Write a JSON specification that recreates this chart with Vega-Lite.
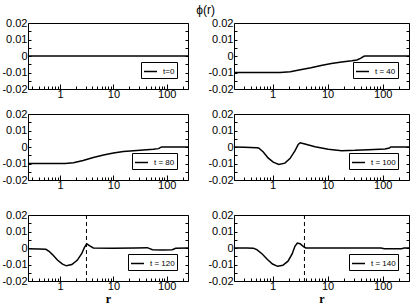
{
  "$schema": "https://vega.github.io/schema/vega-lite/v6.json",
  "padding": {"left": 1, "right": 1, "top": 3, "bottom": 2},
  "title": {"text": "ϕ(r)", "fontSize": 12, "fontWeight": "normal", "font": "Liberation Sans", "anchor": "middle", "offset": 0, "color": "black"},
  "datasets": {
    "phi": [
      {"t": 0, "label": "t=0", "r": 0.25, "phi": 0},
      {"t": 0, "label": "t=0", "r": 1, "phi": 0},
      {"t": 0, "label": "t=0", "r": 10, "phi": 0},
      {"t": 0, "label": "t=0", "r": 100, "phi": 0},
      {"t": 0, "label": "t=0", "r": 250, "phi": 0},

      {"t": 40, "label": "t = 40", "r": 0.2, "phi": -0.01},
      {"t": 40, "label": "t = 40", "r": 0.5, "phi": -0.01},
      {"t": 40, "label": "t = 40", "r": 1, "phi": -0.01},
      {"t": 40, "label": "t = 40", "r": 1.37, "phi": -0.01},
      {"t": 40, "label": "t = 40", "r": 2.1, "phi": -0.0096},
      {"t": 40, "label": "t = 40", "r": 3.2, "phi": -0.0084},
      {"t": 40, "label": "t = 40", "r": 5, "phi": -0.0071},
      {"t": 40, "label": "t = 40", "r": 7.6, "phi": -0.0057},
      {"t": 40, "label": "t = 40", "r": 11.7, "phi": -0.0045},
      {"t": 40, "label": "t = 40", "r": 18, "phi": -0.0037},
      {"t": 40, "label": "t = 40", "r": 27.6, "phi": -0.0029},
      {"t": 40, "label": "t = 40", "r": 34, "phi": -0.0024},
      {"t": 40, "label": "t = 40", "r": 39.5, "phi": -0.0014},
      {"t": 40, "label": "t = 40", "r": 45.5, "phi": -0.0002},
      {"t": 40, "label": "t = 40", "r": 49, "phi": 0},
      {"t": 40, "label": "t = 40", "r": 100, "phi": 0},
      {"t": 40, "label": "t = 40", "r": 300, "phi": 0},

      {"t": 80, "label": "t = 80", "r": 0.25, "phi": -0.01},
      {"t": 80, "label": "t = 80", "r": 0.6, "phi": -0.01},
      {"t": 80, "label": "t = 80", "r": 1.24, "phi": -0.01},
      {"t": 80, "label": "t = 80", "r": 1.78, "phi": -0.0096},
      {"t": 80, "label": "t = 80", "r": 2.7, "phi": -0.0082},
      {"t": 80, "label": "t = 80", "r": 4.2, "phi": -0.0064},
      {"t": 80, "label": "t = 80", "r": 6.5, "phi": -0.0048},
      {"t": 80, "label": "t = 80", "r": 10, "phi": -0.0036},
      {"t": 80, "label": "t = 80", "r": 15.4, "phi": -0.0028},
      {"t": 80, "label": "t = 80", "r": 23.7, "phi": -0.0022},
      {"t": 80, "label": "t = 80", "r": 36.5, "phi": -0.0018},
      {"t": 80, "label": "t = 80", "r": 56, "phi": -0.0014},
      {"t": 80, "label": "t = 80", "r": 70, "phi": -0.001},
      {"t": 80, "label": "t = 80", "r": 77, "phi": -0.0002},
      {"t": 80, "label": "t = 80", "r": 80, "phi": 0},
      {"t": 80, "label": "t = 80", "r": 250, "phi": 0},

      {"t": 100, "label": "t = 100", "r": 0.2, "phi": 0},
      {"t": 100, "label": "t = 100", "r": 0.31, "phi": -0.0002},
      {"t": 100, "label": "t = 100", "r": 0.51, "phi": -0.0004},
      {"t": 100, "label": "t = 100", "r": 0.56, "phi": -0.0006},
      {"t": 100, "label": "t = 100", "r": 0.68, "phi": -0.003},
      {"t": 100, "label": "t = 100", "r": 0.83, "phi": -0.0066},
      {"t": 100, "label": "t = 100", "r": 1.03, "phi": -0.0092},
      {"t": 100, "label": "t = 100", "r": 1.3, "phi": -0.0106},
      {"t": 100, "label": "t = 100", "r": 1.68, "phi": -0.0098},
      {"t": 100, "label": "t = 100", "r": 2.07, "phi": -0.007},
      {"t": 100, "label": "t = 100", "r": 2.55, "phi": -0.0024},
      {"t": 100, "label": "t = 100", "r": 2.93, "phi": 0.0016},
      {"t": 100, "label": "t = 100", "r": 3.18, "phi": 0.0026},
      {"t": 100, "label": "t = 100", "r": 3.87, "phi": 0.0018},
      {"t": 100, "label": "t = 100", "r": 5.9, "phi": 0.0002},
      {"t": 100, "label": "t = 100", "r": 10.3, "phi": -0.0014},
      {"t": 100, "label": "t = 100", "r": 18, "phi": -0.0022},
      {"t": 100, "label": "t = 100", "r": 31.5, "phi": -0.002},
      {"t": 100, "label": "t = 100", "r": 55, "phi": -0.0016},
      {"t": 100, "label": "t = 100", "r": 110, "phi": -0.0012},
      {"t": 100, "label": "t = 100", "r": 132, "phi": -0.0006},
      {"t": 100, "label": "t = 100", "r": 140, "phi": 0},
      {"t": 100, "label": "t = 100", "r": 300, "phi": 0},

      {"t": 120, "label": "t = 120", "r": 0.25, "phi": -0.0004},
      {"t": 120, "label": "t = 120", "r": 0.4, "phi": -0.0006},
      {"t": 120, "label": "t = 120", "r": 0.54, "phi": -0.0008},
      {"t": 120, "label": "t = 120", "r": 0.62, "phi": -0.002},
      {"t": 120, "label": "t = 120", "r": 0.72, "phi": -0.004},
      {"t": 120, "label": "t = 120", "r": 0.89, "phi": -0.0073},
      {"t": 120, "label": "t = 120", "r": 1.11, "phi": -0.0098},
      {"t": 120, "label": "t = 120", "r": 1.31, "phi": -0.0108},
      {"t": 120, "label": "t = 120", "r": 1.66, "phi": -0.01},
      {"t": 120, "label": "t = 120", "r": 2.11, "phi": -0.0073},
      {"t": 120, "label": "t = 120", "r": 2.55, "phi": -0.0033},
      {"t": 120, "label": "t = 120", "r": 2.86, "phi": 0.0004},
      {"t": 120, "label": "t = 120", "r": 3.16, "phi": 0.0025},
      {"t": 120, "label": "t = 120", "r": 3.6, "phi": 0.0013},
      {"t": 120, "label": "t = 120", "r": 4.2, "phi": 0},
      {"t": 120, "label": "t = 120", "r": 9.6, "phi": -0.0002},
      {"t": 120, "label": "t = 120", "r": 26, "phi": 0},
      {"t": 120, "label": "t = 120", "r": 43, "phi": 0.0002},
      {"t": 120, "label": "t = 120", "r": 54, "phi": -0.001},
      {"t": 120, "label": "t = 120", "r": 83, "phi": -0.0012},
      {"t": 120, "label": "t = 120", "r": 127, "phi": -0.001},
      {"t": 120, "label": "t = 120", "r": 147, "phi": -0.0002},
      {"t": 120, "label": "t = 120", "r": 250, "phi": 0},

      {"t": 140, "label": "t = 140", "r": 0.19, "phi": 0},
      {"t": 140, "label": "t = 140", "r": 0.34, "phi": 0},
      {"t": 140, "label": "t = 140", "r": 0.45, "phi": -0.0002},
      {"t": 140, "label": "t = 140", "r": 0.52, "phi": -0.001},
      {"t": 140, "label": "t = 140", "r": 0.65, "phi": -0.0036},
      {"t": 140, "label": "t = 140", "r": 0.81, "phi": -0.007},
      {"t": 140, "label": "t = 140", "r": 1.0, "phi": -0.0097},
      {"t": 140, "label": "t = 140", "r": 1.24, "phi": -0.0111},
      {"t": 140, "label": "t = 140", "r": 1.54, "phi": -0.0105},
      {"t": 140, "label": "t = 140", "r": 1.91, "phi": -0.008},
      {"t": 140, "label": "t = 140", "r": 2.27, "phi": -0.0036},
      {"t": 140, "label": "t = 140", "r": 2.55, "phi": 0.001},
      {"t": 140, "label": "t = 140", "r": 2.82, "phi": 0.003},
      {"t": 140, "label": "t = 140", "r": 3.16, "phi": 0.0026},
      {"t": 140, "label": "t = 140", "r": 3.65, "phi": 0.0008},
      {"t": 140, "label": "t = 140", "r": 4.0, "phi": 0},
      {"t": 140, "label": "t = 140", "r": 93, "phi": 0},
      {"t": 140, "label": "t = 140", "r": 107, "phi": -0.0004},
      {"t": 140, "label": "t = 140", "r": 219, "phi": -0.0004},
      {"t": 140, "label": "t = 140", "r": 246, "phi": 0},
      {"t": 140, "label": "t = 140", "r": 300, "phi": 0}
    ],
    "marks": [
      {"t": 120, "r": 3.12},
      {"t": 140, "r": 3.8}
    ]
  },
  "spacing": 5,
  "resolve": {"scale": {"color": "independent"}},
  "vconcat": [
    {
      "hconcat": [
        {
          "width": 160, "height": 66,
          "layer": [
            {"data": {"name": "phi"}, "transform": [{"filter": "datum.t == 0"}],
             "mark": {"type": "line", "clip": true},
             "encoding": {
               "x": {"field": "r", "type": "quantitative", "scale": {"type": "log", "domain": [0.25, 250], "nice": false},
                     "axis": {"title": null, "values": [0.3,0.4,0.5,0.6,0.7,0.8,0.9,1,2,3,4,5,6,7,8,9,10,20,30,40,50,60,70,80,90,100,200], "labelExpr": "datum.value == 1 ? '1' : datum.value == 10 ? '10' : datum.value == 100 ? '100' : ''", "tickSize": {"condition": {"test": "datum.value == 1 || datum.value == 10 || datum.value == 100", "value": -5}, "value": -3}}},
               "y": {"field": "phi", "type": "quantitative", "scale": {"domain": [-0.02, 0.02], "nice": false, "zero": false},
                     "axis": {"title": null, "orient": "left", "values": [-0.02,-0.015,-0.01,-0.005,0,0.005,0.01,0.015,0.02], "labelExpr": "abs(round(datum.value*1000)) % 10 == 0 ? replace(format(datum.value, '.2~f'), '−', '-') : ''", "tickSize": -3}},
               "color": {"field": "label", "type": "nominal", "scale": {"range": ["black"]}}
             }},
            {"data": {"name": "phi"}, "transform": [{"filter": "datum.t == 0"}],
             "mark": {"type": "line", "opacity": 0},
             "encoding": {
               "x": {"field": "r", "type": "quantitative", "scale": {"type": "log", "domain": [0.25, 250], "nice": false},
                     "axis": {"title": null, "values": [0.3,0.4,0.5,0.6,0.7,0.8,0.9,1,2,3,4,5,6,7,8,9,10,20,30,40,50,60,70,80,90,100,200], "labelExpr": "datum.value == 1 ? '1' : datum.value == 10 ? '10' : datum.value == 100 ? '100' : ''", "tickSize": {"condition": {"test": "datum.value == 1 || datum.value == 10 || datum.value == 100", "value": -5}, "value": -3}}},
               "y": {"field": "phi", "type": "quantitative", "scale": {"domain": [-0.02, 0.02], "nice": false, "zero": false},
                     "axis": {"title": null, "orient": "right", "values": [-0.02,-0.015,-0.01,-0.005,0,0.005,0.01,0.015,0.02], "labels": false, "tickSize": -3}}
             }}
          ],
          "resolve": {"axis": {"y": "independent"}}
        },
        {
          "width": 175, "height": 66,
          "layer": [
            {"data": {"name": "phi"}, "transform": [{"filter": "datum.t == 40"}],
             "mark": {"type": "line", "clip": true},
             "encoding": {
               "x": {"field": "r", "type": "quantitative", "scale": {"type": "log", "domain": [0.2, 300], "nice": false},
                     "axis": {"title": null, "values": [0.3,0.4,0.5,0.6,0.7,0.8,0.9,1,2,3,4,5,6,7,8,9,10,20,30,40,50,60,70,80,90,100,200], "labelExpr": "datum.value == 1 ? '1' : datum.value == 10 ? '10' : datum.value == 100 ? '100' : ''", "tickSize": {"condition": {"test": "datum.value == 1 || datum.value == 10 || datum.value == 100", "value": -5}, "value": -3}}},
               "y": {"field": "phi", "type": "quantitative", "scale": {"domain": [-0.02, 0.02], "nice": false, "zero": false},
                     "axis": {"title": null, "orient": "left", "values": [-0.02,-0.015,-0.01,-0.005,0,0.005,0.01,0.015,0.02], "labelExpr": "abs(round(datum.value*1000)) % 10 == 0 ? replace(format(datum.value, '.2~f'), '−', '-') : ''", "tickSize": -3}},
               "color": {"field": "label", "type": "nominal", "scale": {"range": ["black"]}}
             }},
            {"data": {"name": "phi"}, "transform": [{"filter": "datum.t == 40"}],
             "mark": {"type": "line", "opacity": 0},
             "encoding": {
               "x": {"field": "r", "type": "quantitative", "scale": {"type": "log", "domain": [0.2, 300], "nice": false},
                     "axis": {"title": null, "values": [0.3,0.4,0.5,0.6,0.7,0.8,0.9,1,2,3,4,5,6,7,8,9,10,20,30,40,50,60,70,80,90,100,200], "labelExpr": "datum.value == 1 ? '1' : datum.value == 10 ? '10' : datum.value == 100 ? '100' : ''", "tickSize": {"condition": {"test": "datum.value == 1 || datum.value == 10 || datum.value == 100", "value": -5}, "value": -3}}},
               "y": {"field": "phi", "type": "quantitative", "scale": {"domain": [-0.02, 0.02], "nice": false, "zero": false},
                     "axis": {"title": null, "orient": "right", "values": [-0.02,-0.015,-0.01,-0.005,0,0.005,0.01,0.015,0.02], "labels": false, "tickSize": -3}}
             }}
          ],
          "resolve": {"axis": {"y": "independent"}}
        }
      ],
      "spacing": 46, "bounds": "flush",
      "resolve": {"scale": {"color": "independent"}}
    },
    {
      "vconcat": [
        {
          "hconcat": [
            {
              "width": 160, "height": 66,
              "layer": [
                {"data": {"name": "phi"}, "transform": [{"filter": "datum.t == 80"}],
                 "mark": {"type": "line", "clip": true},
                 "encoding": {
                   "x": {"field": "r", "type": "quantitative", "scale": {"type": "log", "domain": [0.25, 250], "nice": false},
                         "axis": {"title": null, "values": [0.3,0.4,0.5,0.6,0.7,0.8,0.9,1,2,3,4,5,6,7,8,9,10,20,30,40,50,60,70,80,90,100,200], "labelExpr": "datum.value == 1 ? '1' : datum.value == 10 ? '10' : datum.value == 100 ? '100' : ''", "tickSize": {"condition": {"test": "datum.value == 1 || datum.value == 10 || datum.value == 100", "value": -5}, "value": -3}}},
                   "y": {"field": "phi", "type": "quantitative", "scale": {"domain": [-0.02, 0.02], "nice": false, "zero": false},
                         "axis": {"title": null, "orient": "left", "values": [-0.02,-0.015,-0.01,-0.005,0,0.005,0.01,0.015,0.02], "labelExpr": "abs(round(datum.value*1000)) % 10 == 0 ? replace(format(datum.value, '.2~f'), '−', '-') : ''", "tickSize": -3}},
                   "color": {"field": "label", "type": "nominal", "scale": {"range": ["black"]}}
                 }},
                {"data": {"name": "phi"}, "transform": [{"filter": "datum.t == 80"}],
                 "mark": {"type": "line", "opacity": 0},
                 "encoding": {
                   "x": {"field": "r", "type": "quantitative", "scale": {"type": "log", "domain": [0.25, 250], "nice": false},
                         "axis": {"title": null, "values": [0.3,0.4,0.5,0.6,0.7,0.8,0.9,1,2,3,4,5,6,7,8,9,10,20,30,40,50,60,70,80,90,100,200], "labelExpr": "datum.value == 1 ? '1' : datum.value == 10 ? '10' : datum.value == 100 ? '100' : ''", "tickSize": {"condition": {"test": "datum.value == 1 || datum.value == 10 || datum.value == 100", "value": -5}, "value": -3}}},
                   "y": {"field": "phi", "type": "quantitative", "scale": {"domain": [-0.02, 0.02], "nice": false, "zero": false},
                         "axis": {"title": null, "orient": "right", "values": [-0.02,-0.015,-0.01,-0.005,0,0.005,0.01,0.015,0.02], "labels": false, "tickSize": -3}}
                 }}
              ],
              "resolve": {"axis": {"y": "independent"}}
            },
            {
              "width": 175, "height": 66,
              "layer": [
                {"data": {"name": "phi"}, "transform": [{"filter": "datum.t == 100"}],
                 "mark": {"type": "line", "clip": true},
                 "encoding": {
                   "x": {"field": "r", "type": "quantitative", "scale": {"type": "log", "domain": [0.2, 300], "nice": false},
                         "axis": {"title": null, "values": [0.3,0.4,0.5,0.6,0.7,0.8,0.9,1,2,3,4,5,6,7,8,9,10,20,30,40,50,60,70,80,90,100,200], "labelExpr": "datum.value == 1 ? '1' : datum.value == 10 ? '10' : datum.value == 100 ? '100' : ''", "tickSize": {"condition": {"test": "datum.value == 1 || datum.value == 10 || datum.value == 100", "value": -5}, "value": -3}}},
                   "y": {"field": "phi", "type": "quantitative", "scale": {"domain": [-0.02, 0.02], "nice": false, "zero": false},
                         "axis": {"title": null, "orient": "left", "values": [-0.02,-0.015,-0.01,-0.005,0,0.005,0.01,0.015,0.02], "labelExpr": "abs(round(datum.value*1000)) % 10 == 0 ? replace(format(datum.value, '.2~f'), '−', '-') : ''", "tickSize": -3}},
                   "color": {"field": "label", "type": "nominal", "scale": {"range": ["black"]}}
                 }},
                {"data": {"name": "phi"}, "transform": [{"filter": "datum.t == 100"}],
                 "mark": {"type": "line", "opacity": 0},
                 "encoding": {
                   "x": {"field": "r", "type": "quantitative", "scale": {"type": "log", "domain": [0.2, 300], "nice": false},
                         "axis": {"title": null, "values": [0.3,0.4,0.5,0.6,0.7,0.8,0.9,1,2,3,4,5,6,7,8,9,10,20,30,40,50,60,70,80,90,100,200], "labelExpr": "datum.value == 1 ? '1' : datum.value == 10 ? '10' : datum.value == 100 ? '100' : ''", "tickSize": {"condition": {"test": "datum.value == 1 || datum.value == 10 || datum.value == 100", "value": -5}, "value": -3}}},
                   "y": {"field": "phi", "type": "quantitative", "scale": {"domain": [-0.02, 0.02], "nice": false, "zero": false},
                         "axis": {"title": null, "orient": "right", "values": [-0.02,-0.015,-0.01,-0.005,0,0.005,0.01,0.015,0.02], "labels": false, "tickSize": -3}}
                 }}
              ],
              "resolve": {"axis": {"y": "independent"}}
            }
          ],
          "spacing": 46, "bounds": "flush",
          "resolve": {"scale": {"color": "independent"}}
        },
        {
          "hconcat": [
            {
              "width": 160, "height": 66,
              "layer": [
                {"data": {"name": "phi"}, "transform": [{"filter": "datum.t == 120"}],
                 "mark": {"type": "line", "clip": true},
                 "encoding": {
                   "x": {"field": "r", "type": "quantitative", "scale": {"type": "log", "domain": [0.25, 250], "nice": false},
                         "axis": {"title": "r", "values": [0.3,0.4,0.5,0.6,0.7,0.8,0.9,1,2,3,4,5,6,7,8,9,10,20,30,40,50,60,70,80,90,100,200], "labelExpr": "datum.value == 1 ? '1' : datum.value == 10 ? '10' : datum.value == 100 ? '100' : ''", "tickSize": {"condition": {"test": "datum.value == 1 || datum.value == 10 || datum.value == 100", "value": -5}, "value": -3}}},
                   "y": {"field": "phi", "type": "quantitative", "scale": {"domain": [-0.02, 0.02], "nice": false, "zero": false},
                         "axis": {"title": null, "orient": "left", "values": [-0.02,-0.015,-0.01,-0.005,0,0.005,0.01,0.015,0.02], "labelExpr": "abs(round(datum.value*1000)) % 10 == 0 ? replace(format(datum.value, '.2~f'), '−', '-') : ''", "tickSize": -3}},
                   "color": {"field": "label", "type": "nominal", "scale": {"range": ["black"]}}
                 }},
                {"data": {"name": "phi"}, "transform": [{"filter": "datum.t == 120"}],
                 "mark": {"type": "line", "opacity": 0},
                 "encoding": {
                   "x": {"field": "r", "type": "quantitative", "scale": {"type": "log", "domain": [0.25, 250], "nice": false},
                         "axis": {"title": "r", "values": [0.3,0.4,0.5,0.6,0.7,0.8,0.9,1,2,3,4,5,6,7,8,9,10,20,30,40,50,60,70,80,90,100,200], "labelExpr": "datum.value == 1 ? '1' : datum.value == 10 ? '10' : datum.value == 100 ? '100' : ''", "tickSize": {"condition": {"test": "datum.value == 1 || datum.value == 10 || datum.value == 100", "value": -5}, "value": -3}}},
                   "y": {"field": "phi", "type": "quantitative", "scale": {"domain": [-0.02, 0.02], "nice": false, "zero": false},
                         "axis": {"title": null, "orient": "right", "values": [-0.02,-0.015,-0.01,-0.005,0,0.005,0.01,0.015,0.02], "labels": false, "tickSize": -3}}
                 }},
                {"data": {"name": "marks"}, "transform": [{"filter": "datum.t == 120"}],
                 "mark": {"type": "rule", "strokeDash": [4, 3], "color": "black", "strokeWidth": 1},
                 "encoding": {
                   "x": {"field": "r", "type": "quantitative", "scale": {"type": "log", "domain": [0.25, 250], "nice": false},
                         "axis": {"title": "r", "values": [0.3,0.4,0.5,0.6,0.7,0.8,0.9,1,2,3,4,5,6,7,8,9,10,20,30,40,50,60,70,80,90,100,200], "labelExpr": "datum.value == 1 ? '1' : datum.value == 10 ? '10' : datum.value == 100 ? '100' : ''", "tickSize": {"condition": {"test": "datum.value == 1 || datum.value == 10 || datum.value == 100", "value": -5}, "value": -3}}}
                 }}
              ],
              "resolve": {"axis": {"y": "independent"}}
            },
            {
              "width": 175, "height": 66,
              "layer": [
                {"data": {"name": "phi"}, "transform": [{"filter": "datum.t == 140"}],
                 "mark": {"type": "line", "clip": true},
                 "encoding": {
                   "x": {"field": "r", "type": "quantitative", "scale": {"type": "log", "domain": [0.2, 300], "nice": false},
                         "axis": {"title": "r", "values": [0.3,0.4,0.5,0.6,0.7,0.8,0.9,1,2,3,4,5,6,7,8,9,10,20,30,40,50,60,70,80,90,100,200], "labelExpr": "datum.value == 1 ? '1' : datum.value == 10 ? '10' : datum.value == 100 ? '100' : ''", "tickSize": {"condition": {"test": "datum.value == 1 || datum.value == 10 || datum.value == 100", "value": -5}, "value": -3}}},
                   "y": {"field": "phi", "type": "quantitative", "scale": {"domain": [-0.02, 0.02], "nice": false, "zero": false},
                         "axis": {"title": null, "orient": "left", "values": [-0.02,-0.015,-0.01,-0.005,0,0.005,0.01,0.015,0.02], "labelExpr": "abs(round(datum.value*1000)) % 10 == 0 ? replace(format(datum.value, '.2~f'), '−', '-') : ''", "tickSize": -3}},
                   "color": {"field": "label", "type": "nominal", "scale": {"range": ["black"]}}
                 }},
                {"data": {"name": "phi"}, "transform": [{"filter": "datum.t == 140"}],
                 "mark": {"type": "line", "opacity": 0},
                 "encoding": {
                   "x": {"field": "r", "type": "quantitative", "scale": {"type": "log", "domain": [0.2, 300], "nice": false},
                         "axis": {"title": "r", "values": [0.3,0.4,0.5,0.6,0.7,0.8,0.9,1,2,3,4,5,6,7,8,9,10,20,30,40,50,60,70,80,90,100,200], "labelExpr": "datum.value == 1 ? '1' : datum.value == 10 ? '10' : datum.value == 100 ? '100' : ''", "tickSize": {"condition": {"test": "datum.value == 1 || datum.value == 10 || datum.value == 100", "value": -5}, "value": -3}}},
                   "y": {"field": "phi", "type": "quantitative", "scale": {"domain": [-0.02, 0.02], "nice": false, "zero": false},
                         "axis": {"title": null, "orient": "right", "values": [-0.02,-0.015,-0.01,-0.005,0,0.005,0.01,0.015,0.02], "labels": false, "tickSize": -3}}
                 }},
                {"data": {"name": "marks"}, "transform": [{"filter": "datum.t == 140"}],
                 "mark": {"type": "rule", "strokeDash": [4, 3], "color": "black", "strokeWidth": 1},
                 "encoding": {
                   "x": {"field": "r", "type": "quantitative", "scale": {"type": "log", "domain": [0.2, 300], "nice": false},
                         "axis": {"title": "r", "values": [0.3,0.4,0.5,0.6,0.7,0.8,0.9,1,2,3,4,5,6,7,8,9,10,20,30,40,50,60,70,80,90,100,200], "labelExpr": "datum.value == 1 ? '1' : datum.value == 10 ? '10' : datum.value == 100 ? '100' : ''", "tickSize": {"condition": {"test": "datum.value == 1 || datum.value == 10 || datum.value == 100", "value": -5}, "value": -3}}}
                 }}
              ],
              "resolve": {"axis": {"y": "independent"}}
            }
          ],
          "spacing": 46, "bounds": "flush",
          "resolve": {"scale": {"color": "independent"}}
        }
      ],
      "spacing": 15,
      "resolve": {"scale": {"color": "independent"}}
    }
  ],
  "config": {
    "view": {"stroke": "black", "strokeWidth": 1},
    "font": "Liberation Sans",
    "line": {"color": "black", "strokeWidth": 1.5},
    "axis": {"domain": false, "grid": false, "tickColor": "black", "tickWidth": 1, "labelFont": "Liberation Sans", "labelFontSize": 11, "labelColor": "black", "labelOverlap": false, "labelFlush": false, "labelPadding": 4, "titleFont": "Liberation Serif", "titleFontWeight": "bold", "titleFontSize": 12, "titleColor": "black", "titlePadding": 0},
    "legend": {"orient": "bottom-right", "offset": 11, "title": null, "strokeColor": "black", "fillColor": "white", "padding": 2, "symbolType": "stroke", "symbolSize": 169, "symbolStrokeWidth": 1.5, "symbolStrokeColor": "black", "labelFont": "Liberation Sans", "labelFontSize": 8, "labelColor": "black", "labelOffset": 5, "cornerRadius": 0}
  }
}
